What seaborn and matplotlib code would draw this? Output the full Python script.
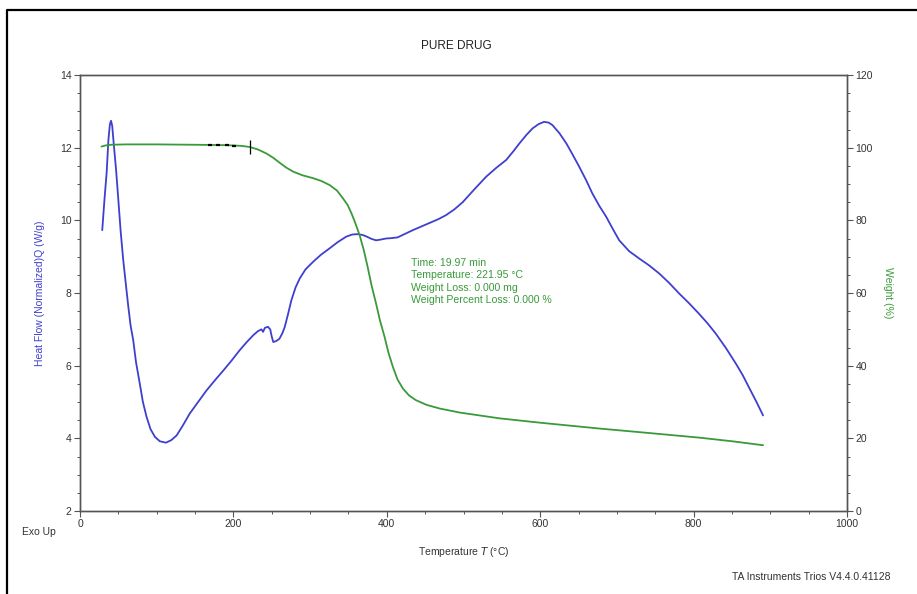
import matplotlib
matplotlib.use("Agg")
import matplotlib.pyplot as plt
from matplotlib.lines import Line2D
from matplotlib.ticker import MultipleLocator
import seaborn as sns

# heat flow (DSC) curve
hf_temp = [29, 32, 34.7, 37, 39, 40.5, 42, 44, 47, 50, 53, 56.4, 60, 63, 66, 69.4, 73, 78,
           82, 86.8, 92, 97.7, 104, 112, 119, 126, 134, 143, 154, 165, 176, 187, 198, 208,
           217, 226, 232, 236.5, 238.7, 241, 245, 248, 250, 252, 256, 260, 264, 267, 271,
           275.6, 281, 286.5, 294, 304, 314, 325.5, 336, 347, 355, 362, 368, 373, 380, 386,
           392, 399, 406, 414, 424, 434, 445, 456, 467, 477, 488, 499, 514, 529.5, 543,
           555.6, 565, 573, 582, 590, 598, 605, 611, 616, 625, 634, 642, 651, 660, 668,
           677, 686, 695, 703, 716, 729, 742, 755, 768, 781, 794, 807, 818, 829, 842, 855,
           864, 872, 882, 890.6]
hf_value = [9.73, 10.6, 11.3, 12.2, 12.65, 12.74, 12.6, 12.1, 11.4, 10.56, 9.7, 8.9, 8.2,
            7.62, 7.1, 6.7, 6.1, 5.5, 5.0, 4.59, 4.25, 4.04, 3.92, 3.88, 3.95, 4.08, 4.35,
            4.68, 5.0, 5.32, 5.6, 5.87, 6.15, 6.42, 6.64, 6.84, 6.95, 7.0, 6.93, 7.04,
            7.07, 7.0, 6.8, 6.65, 6.68, 6.74, 6.9, 7.07, 7.4, 7.8, 8.15, 8.4, 8.65, 8.86,
            9.05, 9.23, 9.4, 9.55, 9.61, 9.62, 9.6, 9.56, 9.49, 9.45, 9.47, 9.50, 9.51,
            9.53, 9.63, 9.73, 9.83, 9.93, 10.03, 10.14, 10.3, 10.5, 10.85, 11.2, 11.45,
            11.66, 11.9, 12.12, 12.35, 12.53, 12.65, 12.71, 12.69, 12.62, 12.4, 12.12,
            11.82, 11.47, 11.1, 10.74, 10.4, 10.1, 9.75, 9.45, 9.15, 8.95, 8.76, 8.54,
            8.28, 7.99, 7.72, 7.43, 7.17, 6.88, 6.49, 6.06, 5.74, 5.41, 5.0, 4.63]

# weight (TGA) curve
wt_temp = [28, 33, 40, 60, 100, 150, 190, 210, 221, 232, 243, 252, 260, 269, 278, 290,
           304, 315, 325.5, 335, 343, 349, 354, 359, 364.6, 370, 375, 380, 386, 391, 397,
           402, 408, 414, 421, 429, 438, 452, 469, 495, 521, 547, 600, 677, 740, 807, 850,
           890.6]
wt_value = [100.3, 100.6, 100.8, 100.9, 100.9, 100.8, 100.7, 100.5, 100.2, 99.5, 98.4,
            97.2, 95.9, 94.5, 93.4, 92.4, 91.6, 90.8, 89.7, 88.2, 86.0, 84.2, 81.9, 79.2,
            75.9, 71.8, 67.2, 62.2, 57.1, 52.5, 48.0, 43.7, 39.6, 36.2, 33.7, 31.8, 30.5,
            29.2, 28.2, 27.1, 26.3, 25.5, 24.3, 22.7, 21.5, 20.2, 19.2, 18.1]

# cursor marks on the weight curve
dash_temp = [170, 180, 192, 201]
dash_weight = [100.75, 100.7, 100.6, 100.5]
cursor_temp = [221]
cursor_weight = [100.2]

info_lines = ["Time: 19.97 min", "Temperature: 221.95 \u00b0C",
              "Weight Loss: 0.000 mg", "Weight Percent Loss: 0.000 %"]

BLUE = "#3f3fcf"
GREEN = "#3a9a3a"
AXC = "#555555"
TXT = "#333333"

sns.set_style("white")
plt.rcParams['font.family'] = ['Liberation Sans', 'DejaVu Sans']
plt.rcParams['font.size'] = 7.5

fig = plt.figure(figsize=(9.17, 5.94), dpi=100)
ax = fig.add_axes([80 / 917, 1 - 511 / 594, 767 / 917, 436 / 594])
ax2 = ax.twinx()

sns.lineplot(x=hf_temp, y=hf_value, ax=ax, color=BLUE, linewidth=1.3, sort=False, estimator=None)
sns.lineplot(x=wt_temp, y=wt_value, ax=ax2, color=GREEN, linewidth=1.3, sort=False, estimator=None)
ax2.plot(dash_temp, dash_weight, linestyle="none", marker="_", markersize=3.5,
         markeredgewidth=1.6, color="black")
ax2.plot(cursor_temp, cursor_weight, linestyle="none", marker="|", markersize=10,
         markeredgewidth=0.9, color="black")

ax.set_xlim(0, 1000)
ax.set_ylim(2, 14)
ax2.set_ylim(0, 120)

ax.xaxis.set_major_locator(MultipleLocator(200))
ax.xaxis.set_minor_locator(MultipleLocator(50))
ax.yaxis.set_major_locator(MultipleLocator(2))
ax.yaxis.set_minor_locator(MultipleLocator(0.5))
ax2.yaxis.set_major_locator(MultipleLocator(20))
ax2.yaxis.set_minor_locator(MultipleLocator(5))

for a in (ax, ax2):
    for s in a.spines.values():
        s.set_color(AXC)
        s.set_linewidth(1.0)
    a.tick_params(which="major", direction="out", length=4, width=0.8, color=AXC,
                  labelcolor=TXT, labelsize=7.5, pad=2)
    a.tick_params(which="minor", direction="out", length=2, width=0.7, color=AXC)
ax.tick_params(axis="x", which="both", bottom=True)
ax.tick_params(axis="y", which="both", left=True)
ax2.tick_params(axis="y", which="both", right=True)

ax.set_ylabel("Heat Flow (Normalized)Q (W/g)", color=BLUE, fontsize=7.5)
ax.yaxis.set_label_coords(-0.046, 0.5)
ax2.set_ylabel("Weight (%)", color=GREEN, fontsize=7.5, rotation=-90, va="bottom")
ax2.yaxis.set_label_coords(1.047, 0.5)
ax.set_xlabel("Temperature $\\it{T}$ (\u00b0C)", color=TXT, fontsize=7.5)
ax.xaxis.set_label_coords(0.5, -0.078)

ax.text(431, 8.97, "\n".join(info_lines), color=GREEN, fontsize=7.6, va="top",
        ha="left", linespacing=1.3)

fig.text(456 / 917, 1 - 46 / 594, "PURE DRUG", ha="center", va="center", fontsize=8.5, color="#222222")
fig.text(22 / 917, 1 - 532 / 594, "Exo Up", ha="left", va="center", fontsize=7.5, color=TXT)
fig.text(890 / 917, 1 - 577 / 594, "TA Instruments Trios V4.4.0.41128", ha="right",
         va="center", fontsize=7.5, color=TXT)

# screenshot frame on left and top
fig.add_artist(Line2D([7 / 917, 7 / 917, 1.0], [0.0, 1 - 10 / 594, 1 - 10 / 594],
                      transform=fig.transFigure, color="black", linewidth=1.6))

fig.savefig("out.png", dpi=100)
